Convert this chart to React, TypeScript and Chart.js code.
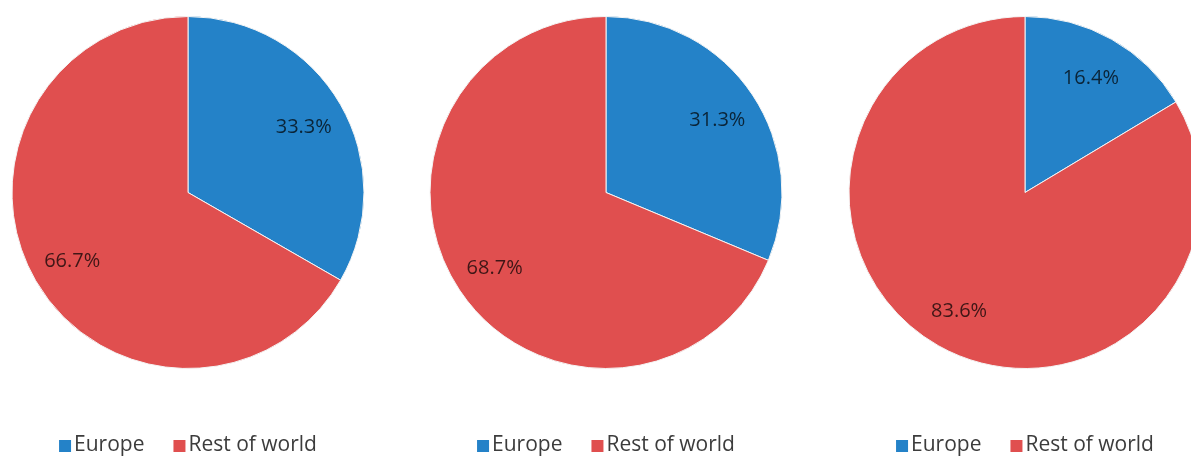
import React, { useEffect, useRef } from "react";
import { Chart, registerables } from "chart.js";

Chart.register(...registerables);

// ---- data ----
const categories = ["Europe", "Rest of world"];
const europeShares = [33.3, 31.3, 16.4];
const restShares = [66.7, 68.7, 83.6];
const sliceColors = ["#2482c8", "#e04f4f"];

// ---- layout ----
const PANEL_W = 418;
const PANEL_H = 457;
const pieCentersX = [188, 606, 1025];

const FONT = '"Open Sans", "DejaVu Sans", sans-serif';

const piePlugin = {
  id: "pieDecor",
  afterDatasetsDraw(chart: any) {
    const ctx = chart.ctx as CanvasRenderingContext2D;
    const meta = chart.getDatasetMeta(0);
    const values = chart.data.datasets[0].data as number[];
    ctx.save();
    // slice labels
    ctx.font = `20px ${FONT}`;
    ctx.fillStyle = "rgba(0,0,0,0.72)";
    ctx.textAlign = "center";
    ctx.textBaseline = "middle";
    meta.data.forEach((arc: any, i: number) => {
      const p = arc.getProps(["x", "y", "startAngle", "endAngle", "outerRadius"], true);
      const mid = (p.startAngle + p.endAngle) / 2;
      const r = p.outerRadius * 0.76;
      ctx.fillText(values[i].toFixed(1) + "%", p.x + Math.cos(mid) * r, p.y + Math.sin(mid) * r + 2);
    });
    // legend
    const labels = chart.data.labels as string[];
    const colors = chart.data.datasets[0].backgroundColor as string[];
    ctx.font = `21px ${FONT}`;
    const box = 12;
    const gap = 3;
    const itemGap = 29;
    const widths = labels.map((l) => ctx.measureText(l).width);
    let total = 0;
    widths.forEach((w, i) => {
      total += box + gap + w + (i < widths.length - 1 ? itemGap : 0);
    });
    const cx = (chart.chartArea.left + chart.chartArea.right) / 2;
    let x = cx - total / 2;
    const baseY = 451;
    ctx.textAlign = "left";
    ctx.textBaseline = "alphabetic";
    labels.forEach((l, i) => {
      ctx.fillStyle = colors[i];
      ctx.fillRect(x, 440, box, box);
      x += box + gap;
      ctx.fillStyle = "#3c3c3c";
      ctx.fillText(l, x, baseY);
      x += widths[i] + itemGap;
    });
    ctx.restore();
  },
};

function PiePanel({ values, centerX }: { values: number[]; centerX: number }) {
  const ref = useRef<HTMLCanvasElement | null>(null);
  useEffect(() => {
    if (!ref.current) return;
    const chart = new Chart(ref.current, {
      type: "pie",
      data: {
        labels: categories,
        datasets: [
          {
            data: values,
            backgroundColor: sliceColors,
            borderColor: "#f4f4f4",
            borderWidth: 1,
          },
        ],
      },
      options: {
        responsive: false,
        animation: false,
        layout: {
          padding: {
            top: 16,
            bottom: PANEL_H - 369,
            left: (PANEL_W - 353) / 2,
            right: (PANEL_W - 353) / 2,
          },
        },
        plugins: {
          legend: { display: false },
          tooltip: { enabled: false },
        },
      },
      plugins: [piePlugin],
    });
    return () => chart.destroy();
  }, [values]);
  return (
    <canvas
      ref={ref}
      width={PANEL_W}
      height={PANEL_H}
      style={{
        position: "absolute",
        left: centerX - PANEL_W / 2,
        top: 0,
        width: PANEL_W,
        height: PANEL_H,
      }}
    />
  );
}

const panelValues = europeShares.map((e, i) => [e, restShares[i]]);

export default function App() {
  return (
    <div
      style={{
        position: "fixed",
        left: 0,
        top: 0,
        width: 1191,
        height: 457,
        overflow: "hidden",
        background: "#ffffff",
      }}
    >
      {panelValues.map((v, i) => (
        <PiePanel key={i} values={v} centerX={pieCentersX[i]} />
      ))}
    </div>
  );
}
